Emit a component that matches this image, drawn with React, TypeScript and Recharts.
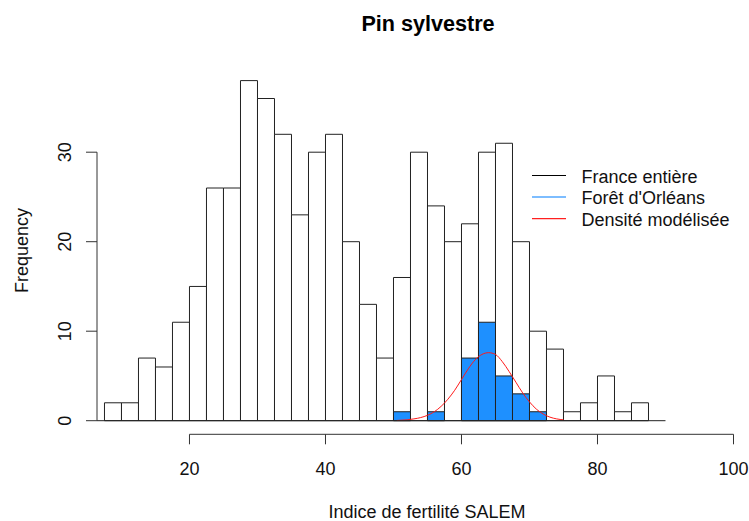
import React from 'react';
import { ComposedChart, Bar, Line, XAxis, YAxis, ReferenceLine } from 'recharts';

// Histogram bin centres (bin width 2.5, from 7.5 to 90)
const binMids = [
  8.75, 11.25, 13.75, 16.25, 18.75, 21.25, 23.75, 26.25, 28.75, 31.25, 33.75,
  36.25, 38.75, 41.25, 43.75, 46.25, 48.75, 51.25, 53.75, 56.25, 58.75, 61.25,
  63.75, 66.25, 68.75, 71.25, 73.75, 76.25, 78.75, 81.25, 83.75, 86.25, 88.75,
];
// France entière counts
const franceCounts = [
  2, 2, 7, 6, 11, 15, 26, 26, 38, 36, 32,
  23, 30, 32, 20, 13, 7, 16, 30, 24, 20, 22,
  30, 31, 20, 10, 8, 1, 2, 5, 1, 2, 0,
];
// Forêt d'Orléans counts
const orleansCounts = [
  0, 0, 0, 0, 0, 0, 0, 0, 0, 0, 0,
  0, 0, 0, 0, 0, 0, 1, 0, 1, 0, 7,
  11, 5, 3, 1, 0, 0, 0, 0, 0, 0, 0,
];
// Densité modélisée
const densityX = [50.5, 51, 52, 53, 54, 55, 56, 57, 58, 59, 60, 61, 62, 63, 64, 65, 66, 67, 68, 69, 70, 71, 72, 73, 74, 75];
const densityY = [0.03, 0.05, 0.1, 0.2, 0.35, 0.6, 1.0, 1.6, 2.4, 3.4, 4.6, 5.8, 6.8, 7.4, 7.6, 7.4, 6.6, 5.5, 4.3, 3.1, 2.1, 1.3, 0.75, 0.4, 0.2, 0.1];

const xTicks = [20, 40, 60, 80, 100];
const yTicks = [0, 10, 20, 30];
const legendLabels = ['France entière', "Forêt d'Orléans", 'Densité modélisée'];
const legendColors = ['#000000', '#7dbdff', '#ff2020'];

const FONT = '"Liberation Sans", Arial, Helvetica, sans-serif';
const AXIS = '#333';

const table = binMids.map((mid, i) => ({ mid, france: franceCounts[i], orleans: orleansCounts[i] }));
const curve = densityX.map((mid, i) => ({ mid, dens: densityY[i] }));

const XTick = (props: any) => {
  const { x, y, payload } = props;
  return (
    <text x={x} y={y + 28.7} textAnchor="middle" fontFamily={FONT} fontSize={18} fill="#111">
      {payload.value}
    </text>
  );
};

const YTick = (props: any) => {
  const { x, y, payload } = props;
  const bx = x - 12.5;
  return (
    <text x={bx} y={y} transform={`rotate(-90, ${bx}, ${y})`} textAnchor="middle" fontFamily={FONT} fontSize={18} fill="#111">
      {payload.value}
    </text>
  );
};

export default function App() {
  return (
    <div style={{ position: 'absolute', left: 0, top: 0, width: 749, height: 521, overflow: 'hidden', background: '#fff' }}>
      <ComposedChart
        width={749}
        height={521}
        data={table}
        margin={{ top: 67, right: 15.5, bottom: 26.7, left: 0 }}
        barCategoryGap={0}
        barGap={0}
      >
        <XAxis
          xAxisId="a"
          type="number"
          dataKey="mid"
          domain={[6.4, 100]}
          ticks={xTicks}
          interval={0}
          axisLine={false}
          tickSize={10}
          tickLine={{ stroke: AXIS, strokeWidth: 1 }}
          tick={<XTick />}
          height={60}
          allowDataOverflow
        />
        <XAxis xAxisId="b" type="number" dataKey="mid" domain={[6.4, 100]} hide allowDataOverflow />
        <XAxis xAxisId="c" type="number" dataKey="mid" domain={[6.4, 100]} hide allowDataOverflow />
        <YAxis
          yAxisId="y"
          type="number"
          domain={[-1.52, 39.52]}
          ticks={yTicks}
          interval={0}
          width={97}
          axisLine={false}
          tickSize={11}
          tickLine={{ stroke: AXIS, strokeWidth: 1 }}
          tick={<YTick />}
          allowDataOverflow
        />
        <Bar xAxisId="a" yAxisId="y" dataKey="france" fill="#ffffff" stroke="#222" strokeWidth={1} isAnimationActive={false} />
        <Bar xAxisId="b" yAxisId="y" dataKey="orleans" fill="#1E90FF" stroke="#222" strokeWidth={1} isAnimationActive={false} />
        <Line
          xAxisId="c"
          yAxisId="y"
          data={curve}
          dataKey="dens"
          type="monotone"
          stroke="#ff1a1a"
          strokeWidth={1}
          dot={false}
          activeDot={false}
          isAnimationActive={false}
        />
        <ReferenceLine xAxisId="a" yAxisId="y" segment={[{ x: 6.4, y: 0 }, { x: 90, y: 0 }]} stroke="#222" strokeWidth={1} ifOverflow="visible" />
        <ReferenceLine xAxisId="a" yAxisId="y" segment={[{ x: 20, y: -1.52 }, { x: 100, y: -1.52 }]} stroke={AXIS} strokeWidth={1} ifOverflow="visible" />
        <ReferenceLine xAxisId="a" yAxisId="y" segment={[{ x: 6.4, y: 0 }, { x: 6.4, y: 30 }]} stroke={AXIS} strokeWidth={1} ifOverflow="visible" />
      </ComposedChart>
      <svg width={749} height={521} style={{ position: 'absolute', left: 0, top: 0, pointerEvents: 'none' }}>
        <text x={428} y={31} textAnchor="middle" fontFamily={FONT} fontSize={21.6} fontWeight="bold" fill="#000">
          Pin sylvestre
        </text>
        <text x={427} y={518} textAnchor="middle" fontFamily={FONT} fontSize={18} fill="#111">
          Indice de fertilité SALEM
        </text>
        <text x={28} y={250.5} transform="rotate(-90, 28, 250.5)" textAnchor="middle" fontFamily={FONT} fontSize={18} fill="#111">
          Frequency
        </text>
        {legendLabels.map((lab, i) => (
          <g key={lab}>
            <line
              x1={532}
              x2={566}
              y1={175.5 + i * 21.6}
              y2={175.5 + i * 21.6}
              stroke={legendColors[i]}
              strokeWidth={i === 1 ? 2 : 1.2}
            />
            <text x={581.5} y={182.7 + i * 21.6} fontFamily={FONT} fontSize={18} fill="#111">
              {lab}
            </text>
          </g>
        ))}
      </svg>
    </div>
  );
}
